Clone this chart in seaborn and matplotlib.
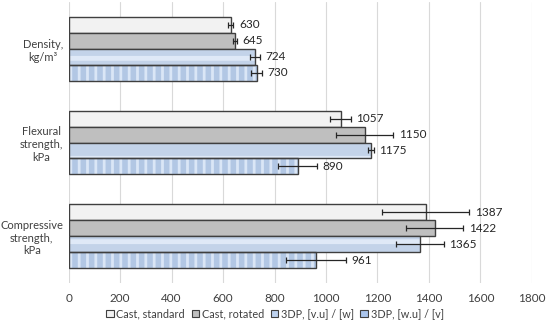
import numpy as np
import pandas as pd
import matplotlib
matplotlib.use("Agg")
import matplotlib.pyplot as plt
from matplotlib.patches import Patch, Rectangle
import seaborn as sns

# данные с графика
properties = ["Density,\nkg/m\u00b3", "Flexural\nstrength,\nkPa", "Compressive\nstrength,\nkPa"]
series = ["Cast, standard", "Cast, rotated", "3DP, [v.u] / [w]", "3DP, [w.u] / [v]"]
cast_standard = [630, 1057, 1387]
cast_rotated = [645, 1150, 1422]
dp_vu_w = [724, 1175, 1365]
dp_wu_v = [730, 890, 961]
err_cast_standard = [10, 40, 170]
err_cast_rotated = [8, 112, 112]
err_dp_vu_w = [20, 11, 92]
err_dp_wu_v = [22, 75, 117]

values = [cast_standard, cast_rotated, dp_vu_w, dp_wu_v]
errors = [err_cast_standard, err_cast_rotated, err_dp_vu_w, err_dp_wu_v]

rows = []
for s, vals in zip(series, values):
    for p, v in zip(properties, vals):
        rows.append({"property": p, "series": s, "value": v})
df = pd.DataFrame(rows)

# стиль
sns.set_style("white")
plt.rcParams["font.family"] = ["Lato", "DejaVu Sans"]
plt.rcParams["hatch.linewidth"] = 2.0

face_colors = ["#f2f2f2", "#bfbfbf", "#bdd2ef", "#aac5ec"]
stripe_colors = [None, None, "#dfe9f7", "#dae6f6"]
hatches = [None, None, "-", "||"]
hatch_widths = [None, None, 3.5, 2.0]
edge = "#3f3f3f"
text_color = "#262626"
fs = 8.5

fig = plt.figure(figsize=(5.5, 3.25), dpi=100)
ax = fig.add_axes([0.125, 0.129, 0.842, 0.865])

sns.barplot(data=df, y="property", x="value", hue="series", orient="h",
            order=properties, hue_order=series, palette=face_colors,
            width=0.68, errorbar=None, edgecolor=edge, linewidth=1.0,
            legend=False, ax=ax, zorder=2)

bar_containers = list(ax.containers)
for i, cont in enumerate(bar_containers):
    for j, p in enumerate(cont.patches):
        if hatches[i]:
            p.set_hatch(hatches[i])
            if hasattr(p, "set_hatch_linewidth"):
                p.set_hatch_linewidth(hatch_widths[i])
            p.set_edgecolor(stripe_colors[i])
            p.set_linewidth(0)
            ax.add_patch(Rectangle(p.get_xy(), p.get_width(), p.get_height(),
                                   fill=False, edgecolor=edge, lw=1.0, zorder=3))
        yc = p.get_y() + p.get_height() / 2
        v = values[i][j]
        e = errors[i][j]
        ax.errorbar(v, yc, xerr=e, fmt="none", ecolor="#262626",
                    elinewidth=0.9, capsize=2.5, capthick=0.9, zorder=4)
        ax.annotate(str(v), (v + e, yc), xytext=(4, 0), textcoords="offset points",
                    va="center", ha="left", fontsize=fs, color=text_color)

ax.set_xlim(0, 1800)
ax.set_ylim(2.5, -0.5)
ax.set_xticks(np.arange(0, 1801, 200))
ax.xaxis.grid(True, color="#d9d9d9", lw=0.8, zorder=0)
ax.set_axisbelow(True)
for s in ax.spines.values():
    s.set_visible(False)
ax.set_xlabel("")
ax.set_ylabel("")
ax.tick_params(axis="x", length=0, labelsize=fs, labelcolor="#404040", pad=7)
ax.tick_params(axis="y", length=0, labelsize=8, labelcolor="#404040", pad=4)
for lab in ax.get_yticklabels():
    lab.set_multialignment("center")

handles = [Patch(facecolor=face_colors[i], edgecolor=edge, lw=0.8) for i in range(4)]
fig.legend(handles, series, loc="center", bbox_to_anchor=(0.5, 0.035), ncol=4,
           frameon=False, fontsize=7.8, handlelength=0.7, handleheight=0.7,
           handletextpad=0.25, columnspacing=0.6, labelcolor="#404040",
           borderpad=0.1)

fig.savefig("out.png", dpi=100)
